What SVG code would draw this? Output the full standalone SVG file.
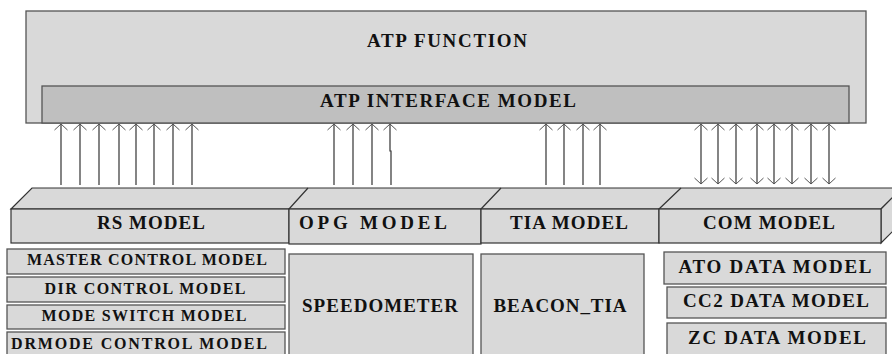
<svg xmlns="http://www.w3.org/2000/svg" width="892" height="354" viewBox="0 0 892 354">
<style>
.box{fill:#d9d9d9;stroke:#555;stroke-width:1.3}
.ibox{fill:#bfbfbf;stroke:#555;stroke-width:1.3}
.bar{fill:#d9d9d9;stroke:#333;stroke-width:1.2}
.t{font-family:"Liberation Serif","Times New Roman",serif;font-weight:bold;fill:#111;text-anchor:middle}
.big{font-size:19px}
.sm{font-size:16px}
.ln{stroke:#333;stroke-width:1.2;fill:none}
</style>
<defs>
<marker id="ah" viewBox="-8 -8 10 16" refX="0" refY="0" markerWidth="10" markerHeight="16" markerUnits="userSpaceOnUse" orient="auto-start-reverse">
<path d="M-6,-6.5 L0,0 L-6,6.5" fill="none" stroke="#555" stroke-width="1"/>
</marker>
</defs>
<rect width="892" height="354" fill="#fff"/>
<g id="atp-function">
<rect class="box" x="26" y="11" width="840" height="112"/>
<text class="t big" x="447" y="47" textLength="160" lengthAdjust="spacing">ATP FUNCTION</text>
</g>
<g id="atp-interface">
<rect class="ibox" x="42" y="86" width="807" height="37"/>
<text class="t big" x="448" y="107" textLength="256" lengthAdjust="spacing">ATP INTERFACE MODEL</text>
</g>
<g id="connectors">
<g class="ln" marker-end="url(#ah)">
<path d="M61,185V124"/><path d="M80,185V124"/><path d="M99,185V124"/><path d="M119,185V124"/>
<path d="M136,185V124"/><path d="M154,185V124"/><path d="M173,185V124"/><path d="M192,185V124"/>
<path d="M334,185V124"/><path d="M353,185V124"/><path d="M372,185V124"/><path d="M391,185V151H390V124"/>
<path d="M546,185V124"/><path d="M564,185V124"/><path d="M583,185V124"/><path d="M600,185V124"/>
</g>
<g class="ln" marker-end="url(#ah)" marker-start="url(#ah)">
<path d="M701,184V124"/><path d="M718,184V124"/><path d="M736,184V124"/><path d="M757,184V124"/>
<path d="M774,184V124"/><path d="M792,184V124"/><path d="M811,184V124"/><path d="M829,184V124"/>
</g>
</g>
<g id="model-bar">
<polygon class="bar" points="11,209 32,188 902,188 881,209"/>
<polygon class="bar" points="881,209 902,188 902,222 881,243"/>
<path class="ln" d="M289,209L308,188M481,209L501,188M659,209L681,188"/>
</g>
<g id="rs-model">
<rect class="bar" x="11" y="209" width="278" height="34"/>
<text class="t big" x="151" y="229" textLength="108" lengthAdjust="spacing">RS MODEL</text>
</g>
<g id="opg-model">
<rect class="bar" x="289" y="209" width="192" height="35"/>
<text class="t big" x="373" y="229" textLength="148" lengthAdjust="spacing">OPG MODEL</text>
</g>
<g id="tia-model">
<rect class="bar" x="481" y="209" width="178" height="34"/>
<text class="t big" x="569" y="229" textLength="118" lengthAdjust="spacing">TIA MODEL</text>
</g>
<g id="com-model">
<rect class="bar" x="659" y="209" width="222" height="34"/>
<text class="t big" x="769" y="229" textLength="132" lengthAdjust="spacing">COM MODEL</text>
</g>
<g id="master-control">
<rect class="box" x="7" y="249" width="278" height="25"/>
<text class="t sm" x="147" y="265" textLength="240" lengthAdjust="spacing">MASTER CONTROL MODEL</text>
</g>
<g id="dir-control">
<rect class="box" x="7" y="277" width="278" height="25"/>
<text class="t sm" x="145" y="294" textLength="201" lengthAdjust="spacing">DIR CONTROL MODEL</text>
</g>
<g id="mode-switch">
<rect class="box" x="7" y="305" width="278" height="24"/>
<text class="t sm" x="144" y="321" textLength="205" lengthAdjust="spacing">MODE SWITCH MODEL</text>
</g>
<g id="drmode-control">
<rect class="box" x="7" y="332" width="278" height="30"/>
<text class="t sm" x="139" y="349" textLength="256" lengthAdjust="spacing">DRMODE CONTROL MODEL</text>
</g>
<g id="speedometer">
<rect class="box" x="289" y="254" width="184" height="110"/>
<text class="t big" x="380" y="312" textLength="156" lengthAdjust="spacing">SPEEDOMETER</text>
</g>
<g id="beacon-tia">
<rect class="box" x="481" y="254" width="163" height="110"/>
<text class="t big" x="560" y="312" textLength="133" lengthAdjust="spacing">BEACON_TIA</text>
</g>
<g id="ato-data">
<rect class="box" x="664" y="252" width="222" height="32"/>
<text class="t big" x="775" y="273" textLength="193" lengthAdjust="spacing">ATO DATA MODEL</text>
</g>
<g id="cc2-data">
<rect class="box" x="667" y="287" width="219" height="31"/>
<text class="t big" x="776" y="307" textLength="186" lengthAdjust="spacing">CC2 DATA MODEL</text>
</g>
<g id="zc-data">
<rect class="box" x="667" y="323" width="219" height="40"/>
<text class="t big" x="777" y="344" textLength="178" lengthAdjust="spacing">ZC DATA MODEL</text>
</g>
</svg>
